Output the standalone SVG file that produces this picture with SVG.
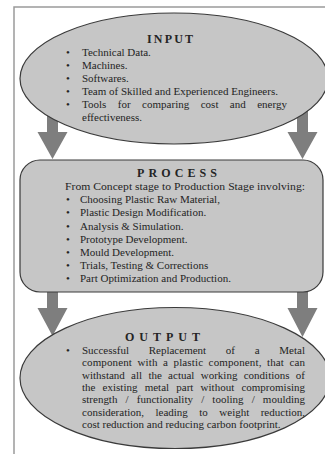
<svg xmlns="http://www.w3.org/2000/svg" width="325" height="454" viewBox="0 0 325 454">
<style>
.frame{fill:none;stroke:#9a9a9a;stroke-width:1.5}
.node{fill:#c6c6c6;stroke:#3a3a3a;stroke-width:1.2}
.arrow{fill:#7e7e7e;stroke:none}
text{font-family:"Liberation Serif","Times New Roman",serif;font-size:11px;fill:#242424}
.title{font-weight:bold;font-size:12px;text-anchor:middle}
</style>
<rect width="325" height="454" fill="#ffffff"/>
<path class="frame" d="M14,454 V7 H325"/>
<g id="connectors">
<polygon class="arrow" points="47,110 58,110 58,132 67.5,132 52.5,159 37.5,132 47,132"/>
<polygon class="arrow" points="297,110 308,110 308,132 317.5,132 302.5,159 287.5,132 297,132"/>
<polygon class="arrow" points="47,290 58,290 58,308 67.5,308 52.5,336 37.5,308 47,308"/>
<polygon class="arrow" points="297,290 308,290 308,308 317.5,308 302.5,337 287.5,308 297,308"/>
</g>
<g id="input">
<ellipse class="node" cx="174" cy="78.5" rx="154" ry="65.5"/>
<text class="title" x="170" y="43" textLength="46" lengthAdjust="spacing">INPUT</text>
<text x="66" y="56">•</text><text x="82" y="56">Technical Data.</text>
<text x="66" y="69">•</text><text x="82" y="69">Machines.</text>
<text x="66" y="82">•</text><text x="82" y="82">Softwares.</text>
<text x="66" y="95">•</text><text x="82" y="95">Team of Skilled and Experienced Engineers.</text>
<text x="66" y="108">•</text><text x="82" y="108" word-spacing="8.6" textLength="205" lengthAdjust="spacing">Tools for comparing cost and energy</text>
<text x="82" y="121">effectiveness.</text>
</g>
<g id="process">
<rect class="node" x="20" y="160" width="303" height="132" rx="20" ry="20"/>
<text class="title" x="177" y="177" textLength="80" lengthAdjust="spacing">PROCESS</text>
<text x="65" y="190" textLength="240" lengthAdjust="spacingAndGlyphs">From Concept stage to Production Stage involving:</text>
<text x="66" y="203.2">•</text><text x="80" y="203.2">Choosing Plastic Raw Material,</text>
<text x="66" y="216.4">•</text><text x="80" y="216.4">Plastic Design Modification.</text>
<text x="66" y="229.6">•</text><text x="80" y="229.6">Analysis &amp; Simulation.</text>
<text x="66" y="242.8">•</text><text x="80" y="242.8">Prototype Development.</text>
<text x="66" y="256">•</text><text x="80" y="256">Mould Development.</text>
<text x="66" y="269.2">•</text><text x="80" y="269.2">Trials, Testing &amp; Corrections</text>
<text x="66" y="282.4">•</text><text x="80" y="282.4">Part Optimization and Production.</text>
</g>
<g id="output">
<ellipse class="node" cx="175" cy="378" rx="155" ry="70.5"/>
<text class="title" x="162.5" y="341" textLength="75" lengthAdjust="spacing">OUTPUT</text>
<text x="66" y="354">•</text><text x="82" y="354" word-spacing="17" textLength="223" lengthAdjust="spacing">Successful Replacement of a Metal</text>
<text x="82" y="366.3" word-spacing="2.6" textLength="223" lengthAdjust="spacing">component with a plastic component, that can</text>
<text x="82" y="378.6" word-spacing="3.5" textLength="223" lengthAdjust="spacing">withstand all the actual working conditions of</text>
<text x="82" y="390.9" word-spacing="4.4" textLength="223" lengthAdjust="spacing">the existing metal part without compromising</text>
<text x="82" y="403.2" word-spacing="5.4" textLength="223" lengthAdjust="spacing">strength / functionality / tooling / moulding</text>
<text x="82" y="415.5" word-spacing="8.7" textLength="223" lengthAdjust="spacing">consideration, leading to weight reduction,</text>
<text x="82" y="427.8">cost reduction and reducing carbon footprint.</text>
</g>
</svg>
